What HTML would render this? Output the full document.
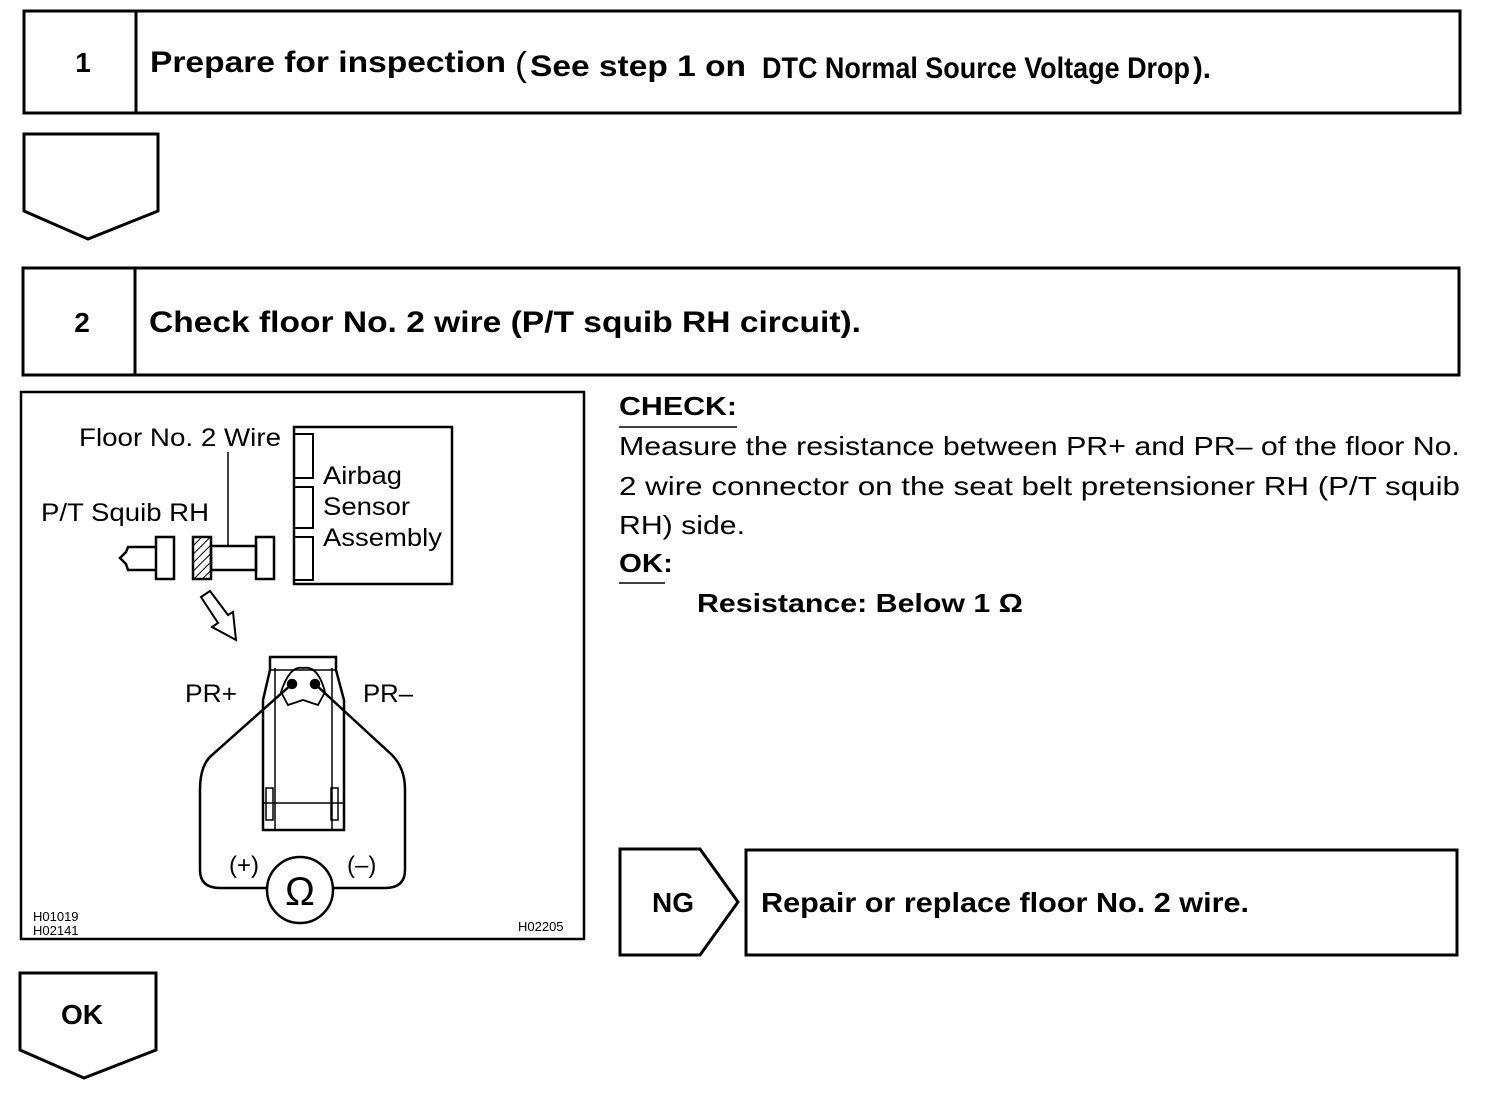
<!DOCTYPE html>
<html><head><meta charset="utf-8"><style>
html,body{margin:0;padding:0;background:#fff;}
svg{display:block}
text{font-family:"Liberation Sans",sans-serif;fill:#000}
.b{font-weight:bold}
</style></head><body>
<svg width="1504" height="1098" viewBox="0 0 1504 1098" xmlns="http://www.w3.org/2000/svg">
<defs>
<pattern id="h" width="6" height="6" patternUnits="userSpaceOnUse" patternTransform="rotate(45)">
<line x1="0" y1="0" x2="0" y2="6" stroke="#000" stroke-width="2"/>
</pattern>
</defs>
<g fill="none" stroke="#000" stroke-width="3">
<rect x="24" y="11" width="1436" height="102"/>
<line x1="136" y1="11" x2="136" y2="113"/>
<polygon points="24,134 158,134 158,211 88,239 24,211"/>
<rect x="23" y="268" width="1436" height="107"/>
<line x1="135" y1="268" x2="135" y2="375"/>
<rect x="21" y="392" width="563" height="547" stroke-width="2.5"/>
<polygon points="20,973 156,973 156,1050 84,1078 20,1050"/>
<polygon points="620,849 700,849 738,902 700,955 620,955"/>
<rect x="746" y="850" width="711" height="105"/>
</g>
<text x="83" y="72" class="b" font-size="28" text-anchor="middle">1</text>
<text x="150" y="72" class="b" font-size="30" textLength="356" lengthAdjust="spacingAndGlyphs">Prepare for inspection</text>
<text x="515" y="76" font-size="34" textLength="12" lengthAdjust="spacingAndGlyphs">(</text>
<text x="530" y="76" class="b" font-size="30" textLength="216" lengthAdjust="spacingAndGlyphs">See step 1 on</text>
<text x="762" y="78" class="b" font-size="30" textLength="428" lengthAdjust="spacingAndGlyphs">DTC Normal Source Voltage Drop</text>
<text x="1193" y="78" class="b" font-size="30" textLength="18" lengthAdjust="spacingAndGlyphs">).</text>

<text x="82" y="332" class="b" font-size="28" text-anchor="middle">2</text>
<text x="149" y="332" class="b" font-size="30" textLength="712" lengthAdjust="spacingAndGlyphs">Check floor No. 2 wire (P/T squib RH circuit).</text>

<text x="619" y="415" class="b" font-size="26" textLength="118" lengthAdjust="spacingAndGlyphs">CHECK:</text>
<line x1="619" y1="427" x2="737" y2="427" stroke="#000" stroke-width="1.5"/>
<text x="619" y="455" font-size="26" textLength="841" lengthAdjust="spacingAndGlyphs">Measure the resistance between PR+ and PR– of the floor No.</text>
<text x="619" y="495" font-size="26" textLength="841" lengthAdjust="spacingAndGlyphs">2 wire connector on the seat belt pretensioner RH (P/T squib</text>
<text x="619" y="534" font-size="26" textLength="126" lengthAdjust="spacingAndGlyphs">RH) side.</text>
<text x="619" y="572" class="b" font-size="26" textLength="54" lengthAdjust="spacingAndGlyphs">OK:</text>
<line x1="619" y1="583" x2="665" y2="583" stroke="#000" stroke-width="1.5"/>
<text x="697" y="612" class="b" font-size="26" textLength="326" lengthAdjust="spacingAndGlyphs">Resistance: Below 1 Ω</text>

<text x="652" y="912" class="b" font-size="28">NG</text>
<text x="761" y="912" class="b" font-size="28" textLength="488" lengthAdjust="spacingAndGlyphs">Repair or replace floor No. 2 wire.</text>
<text x="61" y="1024" class="b" font-size="28">OK</text>

<!-- diagram -->
<g fill="none" stroke="#000" stroke-width="2.5">
<rect x="294" y="427" width="158" height="157"/>
<rect x="294" y="434" width="19" height="44" stroke-width="2"/>
<rect x="294" y="487" width="19" height="41" stroke-width="2"/>
<rect x="294" y="537" width="19" height="43" stroke-width="2"/>
<line x1="228" y1="452" x2="228" y2="546" stroke-width="1.5"/>
<rect x="156" y="537" width="18" height="42"/>
<polyline points="156,547 128,547 126,552 120,558 126,564 128,570 156,570"/>
<rect x="193" y="537" width="18" height="42" fill="url(#h)"/>
<rect x="211" y="546" width="45" height="24"/>
<rect x="256" y="537" width="18" height="42"/>
<polygon points="201,597 210,591 228,615 233,612 236,640 212,627 218,623" stroke-width="2"/>
<path d="M263,830 L263,700 L270,670 L270,657 L336,657 L336,670 L344,700 L344,830 Z" stroke-width="2.5"/>
<path d="M275,668 L275,830 M332,668 L332,830 M270,670 L336,670 M263,803 L344,803" stroke-width="1.5"/>
<path d="M281,692 Q290,665 303,668 Q318,665 325,692 L318,705 L303,700 L288,705 Z" stroke-width="1.8"/>
<rect x="266" y="788" width="7" height="32" stroke-width="1.5"/>
<rect x="331" y="788" width="7" height="32" stroke-width="1.5"/>
<circle cx="292" cy="684" r="4" fill="#000"/>
<circle cx="315" cy="684" r="4" fill="#000"/>
<path d="M292,684 L212,755 Q200,765 200,790 L200,870 Q200,888 220,888 L268,888"/>
<path d="M315,684 L392,755 Q405,768 405,790 L405,870 Q405,888 385,888 L333,888"/>
<circle cx="300" cy="890" r="33"/>
</g>
<text x="79" y="446" font-size="25" textLength="202" lengthAdjust="spacingAndGlyphs">Floor No. 2 Wire</text>
<text x="323" y="484" font-size="25" textLength="79" lengthAdjust="spacingAndGlyphs">Airbag</text>
<text x="323" y="515" font-size="25" textLength="87" lengthAdjust="spacingAndGlyphs">Sensor</text>
<text x="323" y="546" font-size="25" textLength="119" lengthAdjust="spacingAndGlyphs">Assembly</text>
<text x="41" y="521" font-size="25" textLength="168" lengthAdjust="spacingAndGlyphs">P/T Squib RH</text>
<text x="185" y="702" font-size="25" textLength="52" lengthAdjust="spacingAndGlyphs">PR+</text>
<text x="363" y="702" font-size="25" textLength="50" lengthAdjust="spacingAndGlyphs">PR–</text>
<text x="229" y="873" font-size="24">(+)</text>
<text x="347" y="873" font-size="24">(–)</text>
<text x="300" y="905" font-size="40" text-anchor="middle">Ω</text>
<text x="33" y="921" font-size="13">H01019</text>
<text x="33" y="935" font-size="13">H02141</text>
<text x="518" y="931" font-size="13">H02205</text>
</svg>
</body></html>
